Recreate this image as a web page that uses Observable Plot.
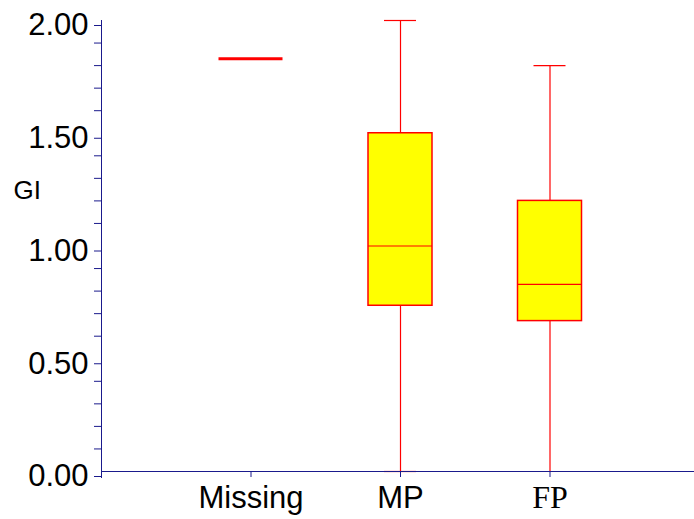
<!DOCTYPE html>
<html>
<head>
<meta charset="utf-8">
<script src="https://cdn.jsdelivr.net/npm/d3@7"></script>
<script src="https://cdn.jsdelivr.net/npm/@observablehq/plot@0.6"></script>
<style>
  body { margin: 0; background: #fff; }
  svg { display: block; }
</style>
</head>
<body>
<div id="chart"></div>
<script>
// Box-plot summary of GI by group
const categories   = ["Missing", "MP", "FP"];
const labelFonts   = ["Liberation Sans", "Liberation Sans", "Liberation Serif"];
const whiskerLow   = [1.83, 0.00, 0.00];
const quartile1    = [1.83, 0.735, 0.667];
const medians      = [1.83, 1.00, 0.83];
const quartile3    = [1.83, 1.50, 1.20];
const whiskerHigh  = [1.83, 2.00, 1.80];
const majorTicks   = [0, 0.5, 1.0, 1.5, 2.0];
const minorTicks   = [0.1, 0.2, 0.3, 0.4, 0.6, 0.7, 0.8, 0.9, 1.1, 1.2, 1.3, 1.4, 1.6, 1.7, 1.8, 1.9];
const yLabel       = "GI";

const boxes = categories.map((name, i) => ({
  name,
  pos: i + 1,
  font: labelFonts[i],
  lo: whiskerLow[i],
  q1: quartile1[i],
  med: medians[i],
  q3: quartile3[i],
  hi: whiskerHigh[i]
}));

const axisColor = "#1a1a8c";
const boxColor = "#ff0000";
const boxFill = "#ffff00";
const slot = 149.5;                    // px per category slot
const boxInset = (slot - 64) / 2;      // box is 64px wide
const capInset = (slot - 32) / 2;      // whisker caps are 32px wide
const left = d => d.pos - 0.5;
const right = d => d.pos + 0.5;

const chart = Plot.plot({
  width: 694,
  height: 519,
  marginLeft: 101,
  marginRight: 0,
  marginTop: 20,
  marginBottom: 48,
  style: { fontFamily: "Liberation Sans, Arial, sans-serif", fontSize: "31px", color: "black", background: "white" },
  x: { type: "linear", domain: [0, 4], range: [101, 699], axis: null },
  y: { domain: [0, 2], range: [471, 20], axis: null },
  marks: [
    // whiskers
    Plot.ruleX(boxes, { x: "pos", y1: "lo", y2: "q1", stroke: boxColor, strokeWidth: 1.2 }),
    Plot.ruleX(boxes, { x: "pos", y1: "q3", y2: "hi", stroke: boxColor, strokeWidth: 1.2 }),
    Plot.ruleY(boxes, { y: "lo", x1: left, x2: right, insetLeft: capInset, insetRight: capInset, stroke: boxColor, strokeWidth: 1.2 }),
    Plot.ruleY(boxes, { y: "hi", x1: left, x2: right, insetLeft: capInset, insetRight: capInset, stroke: boxColor, strokeWidth: 1.2 }),
    // boxes
    Plot.rect(boxes.filter(d => d.q3 > d.q1), { x1: left, x2: right, y1: "q1", y2: "q3", insetLeft: boxInset, insetRight: boxInset, fill: boxFill, stroke: boxColor, strokeWidth: 1.5 }),
    // medians (a collapsed box is drawn as a heavier line)
    Plot.ruleY(boxes, { y: "med", x1: left, x2: right, insetLeft: boxInset, insetRight: boxInset, stroke: boxColor, strokeWidth: d => (d.q3 > d.q1 ? 1.2 : 3) }),

    // axes
    Plot.ruleY([0], { stroke: axisColor }),
    Plot.ruleX([0], { stroke: axisColor, insetBottom: -7 }),
    Plot.axisY({ ticks: minorTicks, tickSize: 7, tickFormat: () => "", stroke: axisColor, label: null }),
    Plot.axisY({ ticks: majorTicks, tickSize: 7, tickPadding: 6, tickFormat: d3.format(".2f"), stroke: axisColor, fill: "black", fontSize: 31, dy: 5, label: null }),
    Plot.axisX({ ticks: [1, 2, 3], tickSize: 6, tickFormat: () => "", stroke: axisColor, label: null }),

    // category labels
    Plot.text(boxes.filter(d => d.font === "Liberation Sans"), { x: "pos", frameAnchor: "bottom", text: "name", dy: 36, fontSize: 31, fontFamily: "Liberation Sans, Arial, sans-serif", fill: "black" }),
    Plot.text(boxes.filter(d => d.font === "Liberation Serif"), { x: "pos", frameAnchor: "bottom", text: "name", dy: 36, fontSize: 32, fontFamily: "Liberation Serif, Times New Roman, serif", fill: "black" }),

    // y axis title
    Plot.text([yLabel], { frameAnchor: "top-left", text: d => d, dx: -88, dy: 160, textAnchor: "start", fontSize: 26, fill: "black" })
  ]
});

document.getElementById("chart").append(chart);
</script>
</body>
</html>
